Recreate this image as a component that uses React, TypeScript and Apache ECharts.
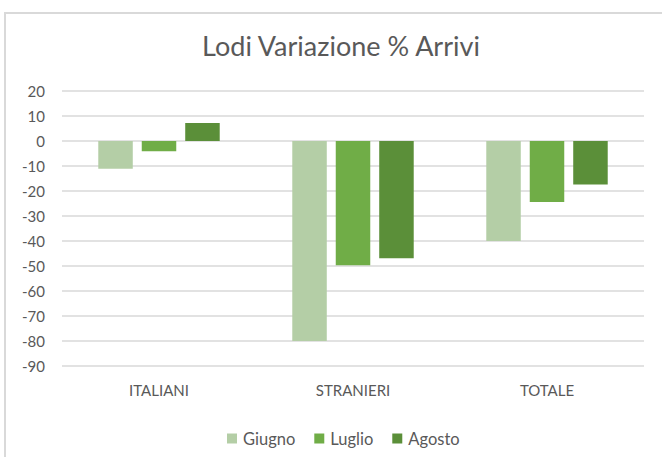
import React, { useEffect, useRef } from "react";
import * as echarts from "echarts";

const categories = ["ITALIANI", "STRANIERI", "TOTALE"];
const seriesNames = ["Giugno", "Luglio", "Agosto"];
const giugno = [-11.1, -80, -40];
const luglio = [-4.1, -49.7, -24.4];
const agosto = [7.2, -46.9, -17.4];
const colors = ["#b4cea6", "#70ad47", "#5b8f39"];

const FONT = "Lato";
const TXT = "#595959";

export default function App() {
  const ref = useRef<HTMLDivElement>(null);
  useEffect(() => {
    const chart = echarts.init(ref.current!, undefined, { renderer: "svg" });
    const data = [giugno, luglio, agosto];
    chart.setOption({
      animation: false,
      backgroundColor: "#ffffff",
      textStyle: { fontFamily: FONT },
      title: {
        text: "Lodi Variazione % Arrivi",
        left: 336,
        textAlign: "center",
        top: 27,
        textStyle: { fontFamily: FONT, fontSize: 27, fontWeight: "normal", color: TXT },
      },
      graphic: [
        {
          type: "rect",
          shape: { x: 5, y: 13, width: 700, height: 500 },
          style: { fill: "none", stroke: "#d9d9d9", lineWidth: 2 },
          silent: true,
        },
      ],
      legend: {
        data: seriesNames,
        bottom: 5,
        left: 222,
        itemWidth: 10,
        itemHeight: 10,
        itemGap: 19,
        icon: "rect",
        textStyle: { fontFamily: FONT, fontSize: 16.5, color: TXT, padding: [0, 0, 0, 1] },
      },
      grid: { left: 62, right: 18, top: 91, bottom: 91, containLabel: false },
      xAxis: {
        type: "category",
        data: categories,
        axisLine: { show: false, onZero: false },
        axisTick: { show: false },
        axisLabel: { fontFamily: FONT, fontSize: 15, color: TXT, margin: 16 },
      },
      yAxis: {
        type: "value",
        min: -90,
        max: 20,
        interval: 10,
        axisLine: { show: false },
        axisTick: { show: false },
        axisLabel: { fontFamily: FONT, fontSize: 15, color: TXT, margin: 17 },
        splitLine: { lineStyle: { color: "#d9d9d9", width: 1.5 } },
      },
      series: seriesNames.map((name, i) => ({
        name,
        type: "bar",
        data: data[i],
        barWidth: 34.5,
        barGap: "26%",
        itemStyle: { color: colors[i] },
      })),
    });
    return () => chart.dispose();
  }, []);
  return (
    <div
      ref={ref}
      style={{ position: "absolute", left: 0, top: 0, width: 662, height: 457 }}
    />
  );
}
